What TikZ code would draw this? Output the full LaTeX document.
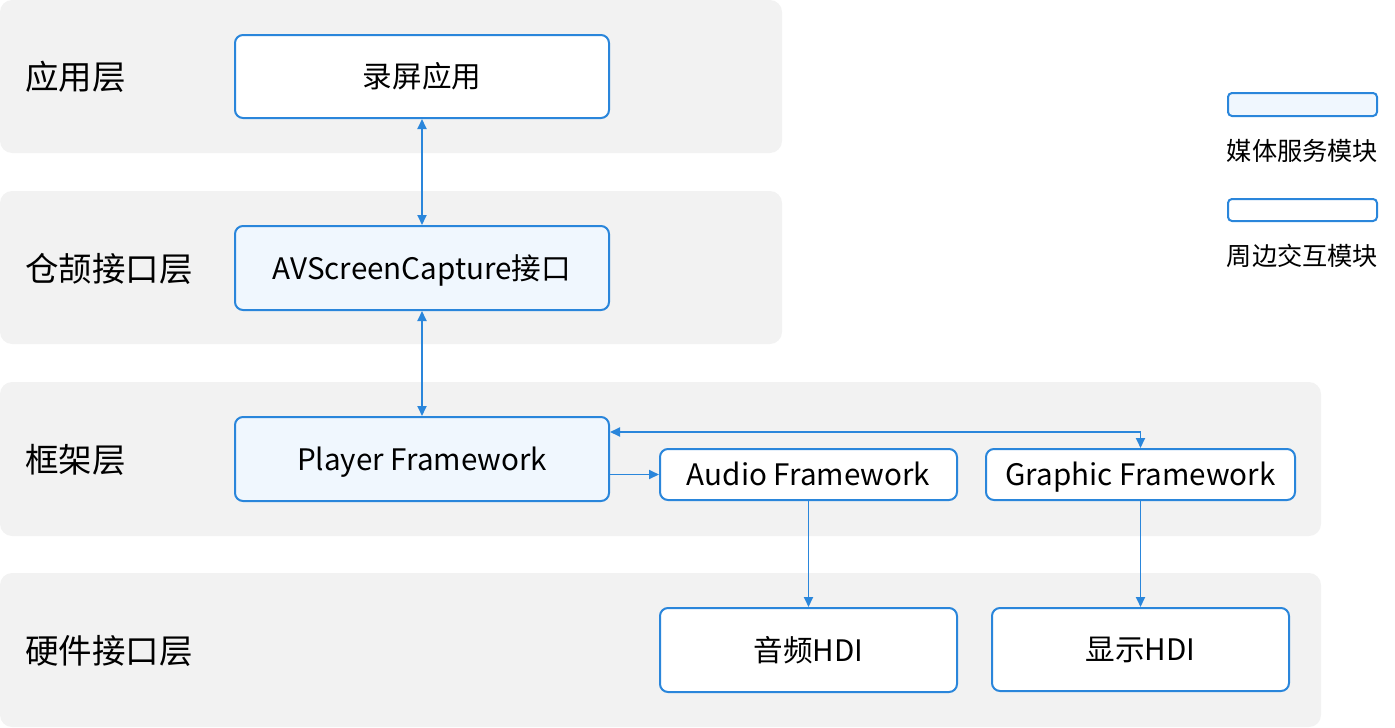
\documentclass[tikz,border=0pt]{standalone}
\usepackage{fontspec}
\setmainfont{Noto Sans CJK SC}
\usetikzlibrary{arrows.meta}
\definecolor{lineblue}{HTML}{2A86DB}
\definecolor{layergray}{HTML}{F2F2F2}
\definecolor{svcfill}{HTML}{F0F7FE}
\tikzset{
  layerbox/.style={fill=layergray, draw=none, rounded corners=12pt},
  layerlabel/.style={anchor=west, inner sep=0pt, text height=28.8pt, text depth=3.4pt, font=\fontsize{33.5}{40}\selectfont},
  modbox/.style={draw=lineblue, line width=2pt, rounded corners=8pt, fill=white, inner sep=0pt, text height=25.5pt, text depth=3.5pt, font=\fontsize{29.6}{35}\selectfont},
  svcbox/.style={modbox, fill=svcfill},
  legbox/.style={text height=0pt, text depth=0pt, rounded corners=4pt},
  conn/.style={draw=lineblue, line width=1.8pt, -{Triangle[length=10pt,width=9pt]}},
  biconn/.style={draw=lineblue, line width=1.8pt, {Triangle[length=10pt,width=9pt]}-{Triangle[length=10pt,width=9pt]}},
  legtext/.style={inner sep=0pt, text height=21.7pt, text depth=2.5pt, font=\fontsize{25.2}{30}\selectfont},
}
\begin{document}
\begin{tikzpicture}[x=1pt,y=-1pt]
\useasboundingbox (0,0) rectangle (1395,728);
% layers
\fill[layerbox] (0,0) rectangle (782,153);
\fill[layerbox] (0,191) rectangle (782,344);
\fill[layerbox] (0,382) rectangle (1321,536);
\fill[layerbox] (0,573) rectangle (1321,727);
\node[layerlabel] (l1) at (25,77) {应用层};
\node[layerlabel] (l2) at (25,269) {仓颉接口层};
\node[layerlabel] (l3) at (25,460) {框架层};
\node[layerlabel] (l4) at (25,651) {硬件接口层};
% modules
\node[modbox, minimum width=374pt, minimum height=83pt] (app) at (422,76.5) {录屏应用};
\node[svcbox, minimum width=374pt, minimum height=84pt] (avsc) at (422,268) {AVScreenCapture接口};
\node[svcbox, minimum width=374pt, minimum height=84pt] (player) at (422,459) {Player Framework};
\node[modbox, minimum width=297pt, minimum height=51pt] (audio) at (808.5,474.5) {Audio Framework};
\node[modbox, minimum width=309pt, minimum height=51pt] (graphic) at (1140.5,474.5) {Graphic Framework};
\node[modbox, minimum width=297pt, minimum height=84pt] (ahdi) at (808.5,650) {音频HDI};
\node[modbox, minimum width=297pt, minimum height=83pt] (dhdi) at (1140.5,649.5) {显示HDI};
% connectors
\draw[biconn] (app.south) -- (avsc.north);
\draw[biconn] (avsc.south) -- (player.north);
\draw[conn] (player.east |- audio.west) -- (audio.west);
\draw[biconn] (player.east |- 0,432) -| (graphic.north);
\draw[conn] (audio.south) -- (ahdi.north);
\draw[conn] (graphic.south) -- (dhdi.north);
% legend
\node[svcbox, legbox, minimum width=149pt, minimum height=23pt] (leg1) at (1302.5,104.5) {};
\node[legtext] (leg1t) at (1302.5,151) {媒体服务模块};
\node[modbox, legbox, minimum width=149pt, minimum height=22pt] (leg2) at (1302.5,210) {};
\node[legtext] (leg2t) at (1302.5,256) {周边交互模块};
\end{tikzpicture}
\end{document}
